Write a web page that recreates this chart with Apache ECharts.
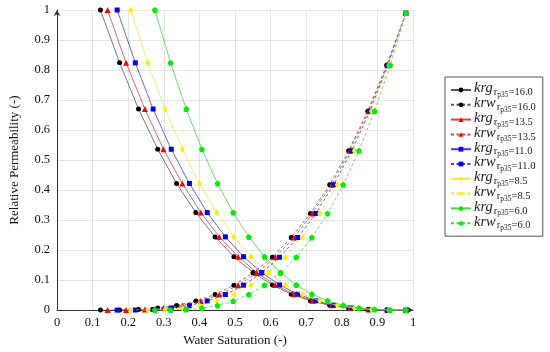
<!DOCTYPE html>
<html><head><meta charset="utf-8">
<script src="https://cdn.jsdelivr.net/npm/echarts@6/dist/echarts.min.js"></script>
<style>html,body{margin:0;padding:0;background:#fff}#c{width:550px;height:352px}</style>
</head><body><div id="c"></div>
<script>
// rp35 cases (legend labels)
const rp35Labels = ['16.0', '13.5', '11.0', '8.5', '6.0'];
// water saturation points for each case
const sw_16_0 = [0.122, 0.176, 0.229, 0.283, 0.336, 0.390, 0.444, 0.497, 0.551, 0.605, 0.658, 0.712, 0.766, 0.819, 0.873, 0.926, 0.980];
const sw_13_5 = [0.142, 0.194, 0.247, 0.299, 0.352, 0.404, 0.456, 0.509, 0.561, 0.613, 0.666, 0.718, 0.771, 0.823, 0.875, 0.928, 0.980];
const sw_11_0 = [0.169, 0.220, 0.270, 0.321, 0.372, 0.422, 0.473, 0.524, 0.575, 0.625, 0.676, 0.727, 0.777, 0.828, 0.879, 0.929, 0.980];
const sw_8_5  = [0.207, 0.255, 0.304, 0.352, 0.400, 0.449, 0.497, 0.545, 0.594, 0.642, 0.690, 0.738, 0.787, 0.835, 0.883, 0.932, 0.980];
const sw_6_0  = [0.275, 0.319, 0.363, 0.407, 0.451, 0.495, 0.539, 0.583, 0.628, 0.672, 0.716, 0.760, 0.804, 0.848, 0.892, 0.936, 0.980];
// relative permeabilities (same levels for every case)
const krgValues = [1, 0.824, 0.670, 0.536, 0.422, 0.325, 0.244, 0.178, 0.125, 0.084, 0.053, 0.031, 0.016, 0.007, 0.002, 0.0002, 0];
const krwValues = [0, 0.0002, 0.002, 0.007, 0.015, 0.030, 0.052, 0.083, 0.124, 0.176, 0.242, 0.322, 0.418, 0.531, 0.663, 0.816, 0.990];
// axis ticks
const xTickLabels = ['0', '0.1', '0.2', '0.3', '0.4', '0.5', '0.6', '0.7', '0.8', '0.9', '1'];
const yTickLabels = ['0', '0.1', '0.2', '0.3', '0.4', '0.5', '0.6', '0.7', '0.8', '0.9', '1'];

const swSets = [sw_16_0, sw_13_5, sw_11_0, sw_8_5, sw_6_0];
const colors = ['#000000', '#ff0000', '#0000ff', '#ffee00', '#00ee00'];
const lineColors = ['#555555', '#e04040', '#4040d0', '#f2e640', '#40d840'];
const symbols = ['circle', 'triangle', 'rect',
  'diamond',
  'path://M0,-1 L0.951,-0.309 L0.588,0.809 L-0.588,0.809 L-0.951,-0.309 Z'];
const symSizes = [5, 6, 5, [5, 7], 6];

const FONT = 'Liberation Serif';
const series = [];
rp35Labels.forEach((lab, i) => {
  const sw = swSets[i];
  ['krg', 'krw'].forEach(kind => {
    const vals = kind === 'krg' ? krgValues : krwValues;
    series.push({
      name: kind + '|' + lab,
      type: 'line',
      data: sw.map((x, j) => [x, vals[j]]),
      symbol: symbols[i],
      symbolSize: symSizes[i],
      showSymbol: true,
      itemStyle: { color: colors[i] },
      lineStyle: { color: lineColors[i], width: 0.8, type: kind === 'krw' ? [3, 2.5] : 'solid' },
      emphasis: { disabled: true },
      animation: false,
      z: 2 + i
    });
  });
});

const axisCommon = {
  min: 0, max: 1, interval: 0.1,
  axisLine: { show: true, onZero: false, lineStyle: { color: '#333', width: 1 }, symbol: ['none', 'arrow'], symbolSize: [5, 6], symbolOffset: [0, 0] },
  axisTick: { show: false },
  splitLine: { show: true, lineStyle: { color: '#dedede', width: 0.8 } },
  nameLocation: 'middle',
  nameTextStyle: { fontFamily: FONT, fontSize: 13, color: '#111' }
};

const chart = echarts.init(document.getElementById('c'), null, { renderer: 'canvas' });
chart.setOption({
  backgroundColor: '#fff',
  animation: false,
  grid: { left: 53, right: 137, top: 10, bottom: 40, containLabel: false },
  xAxis: Object.assign({}, axisCommon, {
    type: 'value',
    name: 'Water Saturation (-)',
    nameGap: 22,
    axisLabel: { margin: 6, fontFamily: FONT, fontSize: 12.5, color: '#111',
      formatter: v => xTickLabels[Math.round(v * 10)] }
  }),
  yAxis: Object.assign({}, axisCommon, {
    type: 'value',
    name: 'Relative Permeability (-)',
    nameGap: 36,
    axisLabel: { margin: 7, fontFamily: FONT, fontSize: 12.5, color: '#111',
      formatter: v => yTickLabels[Math.round(v * 10)] }
  }),
  legend: {
    orient: 'vertical',
    left: 445, top: 77,
    padding: [4, 7, 4, 5],
    itemGap: -3.2,
    itemWidth: 20, itemHeight: 6,
    borderColor: '#555', borderWidth: 1,
    backgroundColor: '#fff',
    selectedMode: false,
    data: series.map(s => s.name),
    formatter: name => {
      const p = name.split('|');
      return '{a|' + p[0] + '}{b|r}{c|p35}{b|=' + p[1] + '}';
    },
    textStyle: {
      padding: [0, 0, 0, -2],
      rich: {
        a: { fontFamily: FONT, fontStyle: 'italic', fontSize: 14.5, color: '#222', verticalAlign: 'top', padding: [0, 1, 0, 0] },
        b: { fontFamily: FONT, fontSize: 10.5, color: '#222', verticalAlign: 'top', padding: [6, 0, 0, 0] },
        c: { fontFamily: FONT, fontSize: 7.5, color: '#222', verticalAlign: 'top', padding: [10, 0, 0, 0] }
      }
    }
  },
  series: series
});
</script>
</body></html>
